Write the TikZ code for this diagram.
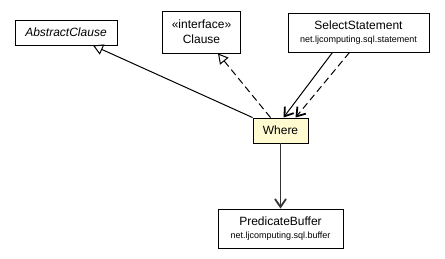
\documentclass[tikz,border=0pt]{standalone}
\usepackage{fontspec}
\setmainfont{Liberation Sans}
\usetikzlibrary{arrows.meta, positioning}

\definecolor{whereyellow}{RGB}{255,250,208}

\newcommand{\pkgname}[1]{{\fontsize{9}{10}\selectfont #1}}

\tikzset{
  umlclass/.style={draw, line width=0.9pt, inner sep=0pt, align=center,
    font=\fontsize{12}{13}\selectfont},
  uses/.style={-{Straight Barb[length=8pt, width=11pt, line width=1.8pt]}, line width=1pt},
  extends/.style={-{Triangle[open, length=10pt, width=11pt, line width=1pt]}, line width=1pt},
  dashpat/.style={dash pattern=on 7pt off 4pt},
}

\begin{document}
\begin{tikzpicture}[x=1pt, y=-1pt]
\useasboundingbox (0,0) rectangle (445,259);

\node [umlclass, minimum width=102pt, minimum height=25pt,
  font=\fontsize{12}{13}\selectfont\itshape] (abstract) at (66,32.5) {AbstractClause};

\node [umlclass, minimum width=78pt, minimum height=42pt] (clause) at (201.5,32) {
	«interface» \\[2pt]
	Clause
};

\node [umlclass, minimum width=141pt, minimum height=39pt] (select) at (358.5,32.5) {
	SelectStatement \\
	\pkgname{net.ljcomputing.sql.statement}
};

\node [umlclass, fill=whereyellow, minimum width=55pt, minimum height=25pt] (where) at (280.5,130.5) {Where};

\node [umlclass, minimum width=125pt, minimum height=39pt] (buffer) at (280.5,228.5) {
	PredicateBuffer \\
	\pkgname{net.ljcomputing.sql.buffer}
};

\draw [extends] (where.north west) -- ([xshift=27pt]abstract.south);
\draw [extends, dashpat] ([xshift=-10pt]where.north) -- ([xshift=16.5pt]clause.south);
\draw [uses] ([xshift=-26pt]select.south) -- ([xshift=3pt]where.north);
\draw [uses, dashpat] ([xshift=-9pt]select.south) -- ([xshift=15pt]where.north);
\draw [uses, draw=black!80] (where) -- (buffer);

\end{tikzpicture}
\end{document}
